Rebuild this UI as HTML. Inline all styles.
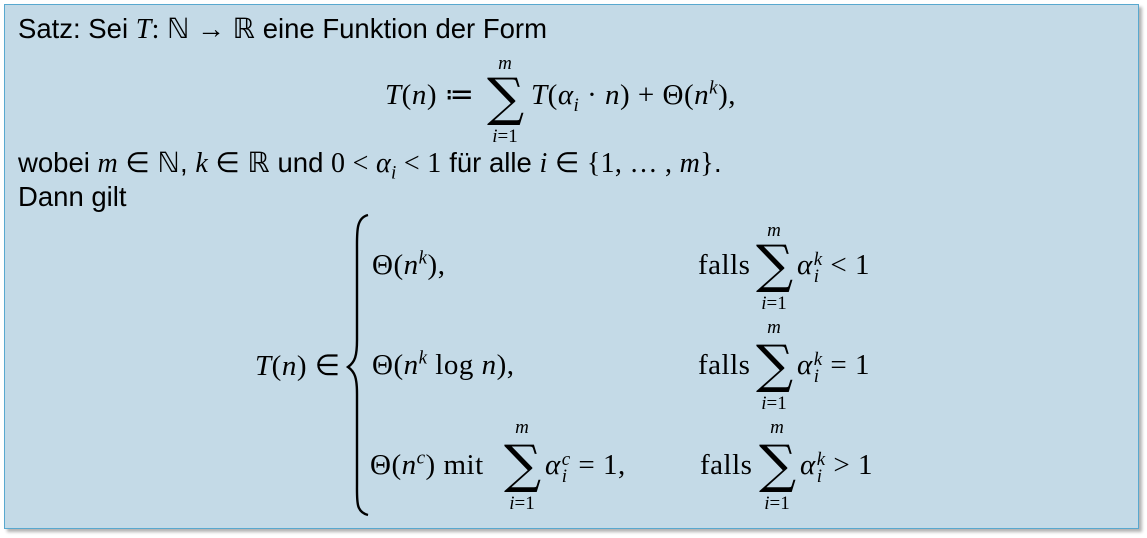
<!DOCTYPE html>
<html><head><meta charset="utf-8"><style>
body{margin:0;width:1147px;height:538px;background:#fff;position:relative;overflow:hidden}
.box{position:absolute;left:4px;top:4px;width:1133px;height:523px;background:#c4dae7;border:1.5px solid #58a8cf;box-shadow:3px 3px 3px rgba(0,0,0,.3)}
.t{position:absolute;white-space:nowrap;line-height:1;font-family:"Liberation Serif",serif;font-size:29px;color:#000;letter-spacing:0.5px}
.s{font-family:"Liberation Sans",sans-serif;font-size:27.5px;letter-spacing:0}
.m{font-family:"Liberation Serif",serif;font-size:28px;letter-spacing:0.3px}
i{font-style:italic}
sub,sup{font-size:19px;line-height:0}
.ss{display:inline-block;vertical-align:-8px;font-size:19px;line-height:17px;font-style:italic;margin-left:1px}
.ss span{display:block}
.sig{position:absolute;font-family:"DejaVu Serif",serif;font-size:52px;line-height:1}
.lim{position:absolute;font-family:"Liberation Serif",serif;font-size:19px;line-height:1;width:44px;text-align:center}
</style></head><body>
<div class="box"></div>
<div class="t s" style="left:18px;top:15px">Satz: Sei <span class="m"><i>T</i>: ℕ → ℝ</span> eine Funktion der Form</div>

<div class="t" style="left:385px;top:81px"><i>T</i>(<i>n</i>) ≔</div>
<div class="lim" style="left:483px;top:54px"><i>m</i></div>
<div class="sig" style="left:487px;top:72px">∑</div>
<div class="lim" style="left:483px;top:127px"><i>i</i>=1</div>
<div class="t" style="left:531px;top:81px"><i>T</i>(<i>α<sub>i</sub></i> · <i>n</i>) + Θ(<i>n<sup>k</sup></i>),</div>

<div class="t s" style="left:18px;top:149px">wobei <span class="m"><i>m</i> ∈ ℕ</span>, <span class="m"><i>k</i> ∈ ℝ</span> und <span class="m">0 &lt; <i>α<sub>i</sub></i> &lt; 1</span> für alle <span class="m"><i>i</i> ∈ {1, … , <i>m</i>}</span>.</div>
<div class="t s" style="left:18px;top:183px">Dann gilt</div>

<div class="t" style="left:255px;top:352px"><i>T</i>(<i>n</i>) ∈</div>
<svg style="position:absolute;left:0;top:0" width="1147" height="538"><path d="M368,215 C356,218 357,232 357,250 L357,340 C357,356 355,362 348,367 C355,372 357,378 357,394 L357,484 C357,502 356,512 368,515" fill="none" stroke="#000" stroke-width="2.4"/></svg>

<div class="t" style="left:372px;top:251px">Θ(<i>n<sup>k</sup></i>),</div>
<div class="t" style="left:698px;top:251px">falls</div>
<div class="lim" style="left:752px;top:221px"><i>m</i></div>
<div class="sig" style="left:756px;top:239px">∑</div>
<div class="lim" style="left:752px;top:294px"><i>i</i>=1</div>
<div class="t" style="left:797px;top:251px"><i>α</i><span class="ss"><span>k</span><span>i</span></span> &lt; 1</div>

<div class="t" style="left:372px;top:351px">Θ(<i>n<sup>k</sup></i> log <i>n</i>),</div>
<div class="t" style="left:698px;top:351px">falls</div>
<div class="lim" style="left:752px;top:318px"><i>m</i></div>
<div class="sig" style="left:756px;top:339px">∑</div>
<div class="lim" style="left:752px;top:394px"><i>i</i>=1</div>
<div class="t" style="left:797px;top:351px"><i>α</i><span class="ss"><span>k</span><span>i</span></span> = 1</div>

<div class="t" style="left:370px;top:451px">Θ(<i>n<sup>c</sup></i>) mit</div>
<div class="lim" style="left:500px;top:418px"><i>m</i></div>
<div class="sig" style="left:504px;top:439px">∑</div>
<div class="lim" style="left:500px;top:494px"><i>i</i>=1</div>
<div class="t" style="left:545px;top:451px"><i>α</i><span class="ss"><span>c</span><span>i</span></span> = 1,</div>
<div class="t" style="left:700px;top:451px">falls</div>
<div class="lim" style="left:755px;top:418px"><i>m</i></div>
<div class="sig" style="left:759px;top:439px">∑</div>
<div class="lim" style="left:755px;top:494px"><i>i</i>=1</div>
<div class="t" style="left:800px;top:451px"><i>α</i><span class="ss"><span>k</span><span>i</span></span> &gt; 1</div>
</body></html>
